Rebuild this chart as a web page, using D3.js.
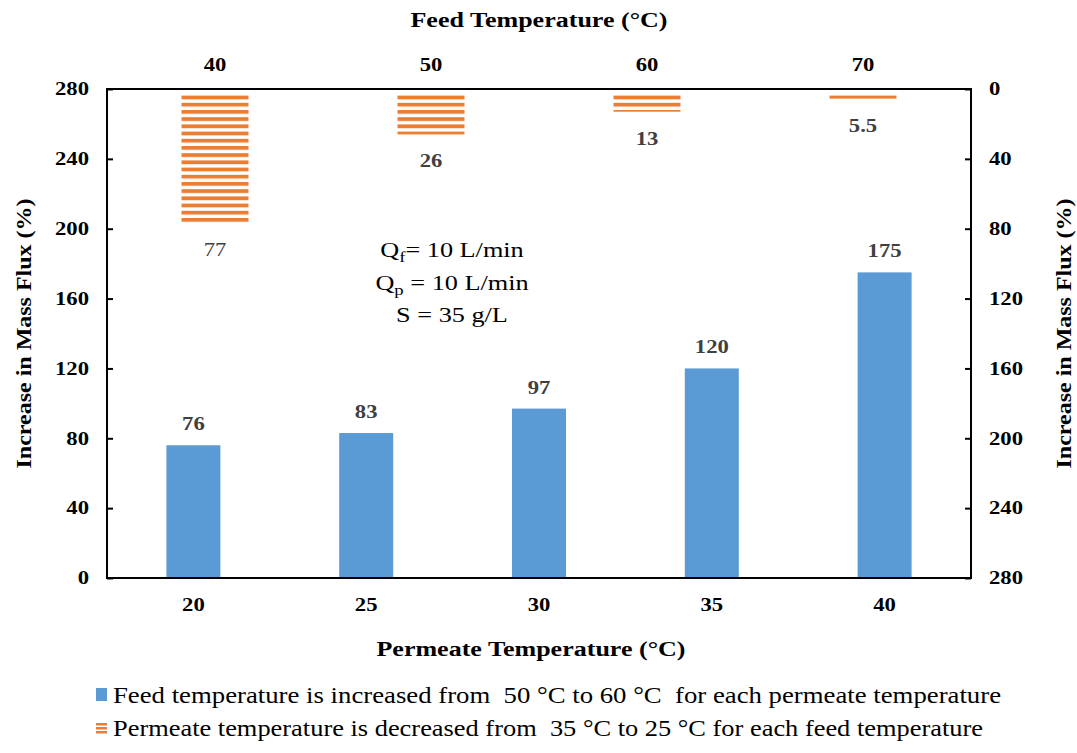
<!DOCTYPE html>
<html>
<head>
<meta charset="utf-8">
<script src="https://cdn.jsdelivr.net/npm/d3@7"></script>
<style>
  body { margin: 0; background: #fff; }
  text { font-family: "Liberation Serif", "Times New Roman", serif; }
</style>
</head>
<body>
<div id="chart"></div>
<script>
// data
const permeateTemps = ["20", "25", "30", "35", "40"];
const feedIncrease = [76, 83, 97, 120, 175];
const feedTemps = ["40", "50", "60", "70"];
const permeateDecrease = [77, 26, 13, 5.5];
const permeateLabels = ["77", "26", "13", "5.5"];
const yTicks = [0, 40, 80, 120, 160, 200, 240, 280];

const width = 1077;
const height = 753;
const margin = { top: 89, right: 106, bottom: 175, left: 107 };
const plotW = width - margin.left - margin.right;
const plotH = height - margin.top - margin.bottom;

const blue = "#5B9BD5";
const orange = "#ED7D31";
const SX = 1.26; // text in the original is drawn wider than normal

// widen a text horizontally around its own x anchor
function widen(sel, sx) {
    sel.attr("transform", function () {
        const x = +d3.select(this).attr("x") || 0;
        return "translate(" + x + ",0) scale(" + sx + ",1) translate(" + (-x) + ",0)";
    });
}

const svg = d3.select("#chart")
    .append("svg")
    .attr("width", width)
    .attr("height", height);

const defs = svg.append("defs");
const pat = defs.append("pattern")
    .attr("id", "stripes")
    .attr("patternUnits", "userSpaceOnUse")
    .attr("width", 10)
    .attr("height", 7.2)
    .attr("y", margin.top + 4);
pat.append("rect")
    .attr("width", 10)
    .attr("height", 3.8)
    .attr("fill", orange);

const g = svg.append("g")
    .attr("transform", "translate(" + margin.left + "," + margin.top + ")");

const xBottom = d3.scaleBand().domain(permeateTemps).range([0, plotW]).paddingInner(0.6875).paddingOuter(0.34375);
const xTop = d3.scaleBand().domain(feedTemps).range([0, plotW]).paddingInner(0.69).paddingOuter(0.345);
const yLeft = d3.scaleLinear().domain([0, 280]).range([plotH, 0]);
const yRight = d3.scaleLinear().domain([0, 280]).range([0, plotH]);

// blue bars
g.selectAll(".blueBar")
    .data(feedIncrease)
    .enter()
    .append("rect")
    .attr("class", "blueBar")
    .attr("x", (d, i) => xBottom(permeateTemps[i]))
    .attr("width", xBottom.bandwidth())
    .attr("y", d => yLeft(d))
    .attr("height", d => plotH - yLeft(d))
    .attr("fill", blue);

g.selectAll(".blueLabel")
    .data(feedIncrease)
    .enter()
    .append("text")
    .attr("x", (d, i) => xBottom(permeateTemps[i]) + xBottom.bandwidth() / 2)
    .attr("y", d => yLeft(d) - 15)
    .attr("text-anchor", "middle")
    .attr("font-size", "18px")
    .attr("font-weight", "bold")
    .attr("fill", "#404040")
    .text(d => d)
    .call(widen, SX);

// orange striped bars (right axis, reversed)
g.selectAll(".orangeBar")
    .data(permeateDecrease)
    .enter()
    .append("rect")
    .attr("class", "orangeBar")
    .attr("x", (d, i) => xTop(feedTemps[i]))
    .attr("width", xTop.bandwidth())
    .attr("y", yRight(0) + 4)
    .attr("height", d => yRight(d) - 4)
    .attr("fill", "url(#stripes)");

g.selectAll(".orangeLabel")
    .data(permeateDecrease)
    .enter()
    .append("text")
    .attr("x", (d, i) => xTop(feedTemps[i]) + xTop.bandwidth() / 2)
    .attr("y", d => yRight(d) + 33)
    .attr("text-anchor", "middle")
    .attr("font-size", "18px")
    .attr("font-weight", (d, i) => i === 0 ? "normal" : "bold")
    .attr("fill", "#404040")
    .text((d, i) => permeateLabels[i])
    .call(widen, SX);

// axes
function styleAxis(sel) {
    sel.selectAll("text")
        .attr("font-family", "Liberation Serif, serif")
        .attr("font-size", "18px")
        .attr("font-weight", "bold")
        .attr("fill", "#000")
        .call(widen, SX);
    sel.selectAll("line").attr("stroke", "#000").attr("stroke-width", 2);
    sel.select(".domain").remove();
}

g.append("g")
    .call(d3.axisLeft(yLeft).tickValues(yTicks).tickSizeInner(-6).tickSizeOuter(0).tickPadding(18))
    .call(styleAxis);

g.append("g")
    .attr("transform", "translate(" + plotW + ",0)")
    .call(d3.axisRight(yRight).tickValues(yTicks).tickSizeInner(-6).tickSizeOuter(0).tickPadding(18))
    .call(styleAxis);

g.append("g")
    .attr("transform", "translate(0," + plotH + ")")
    .call(d3.axisBottom(xBottom).tickSize(0).tickPadding(20))
    .call(styleAxis);

g.append("g")
    .call(d3.axisTop(xTop).tickSize(0).tickPadding(18))
    .call(styleAxis);

// frame
g.append("rect")
    .attr("width", plotW)
    .attr("height", plotH)
    .attr("fill", "none")
    .attr("stroke", "#000")
    .attr("stroke-width", 2);

// titles
svg.append("text")
    .attr("x", 539)
    .attr("y", 27)
    .attr("text-anchor", "middle")
    .attr("font-size", "21px")
    .attr("font-weight", "bold")
    .text("Feed Temperature (°C)")
    .call(widen, 1.24);

svg.append("text")
    .attr("x", 531)
    .attr("y", 656)
    .attr("text-anchor", "middle")
    .attr("font-size", "21px")
    .attr("font-weight", "bold")
    .text("Permeate Temperature (°C)")
    .call(widen, 1.24);

svg.append("text")
    .attr("transform", "translate(31," + (margin.top + plotH / 2) + ") rotate(-90) scale(1.2,1)")
    .attr("text-anchor", "middle")
    .attr("font-size", "20px")
    .attr("font-weight", "bold")
    .text("Increase in Mass Flux (%)");

svg.append("text")
    .attr("transform", "translate(1071," + (margin.top + plotH / 2) + ") rotate(-90) scale(1.2,1)")
    .attr("text-anchor", "middle")
    .attr("font-size", "20px")
    .attr("font-weight", "bold")
    .text("Increase in Mass Flux (%)");

// conditions note
const note = svg.append("g").attr("font-size", "21px").attr("text-anchor", "middle");
const n1 = note.append("text").attr("x", 452).attr("y", 257);
n1.append("tspan").text("Q");
n1.append("tspan").attr("font-size", "15px").attr("dy", 5).text("f");
n1.append("tspan").attr("dy", -5).text("= 10 L/min");
const n2 = note.append("text").attr("x", 452).attr("y", 290);
n2.append("tspan").text("Q");
n2.append("tspan").attr("font-size", "15px").attr("dy", 5).text("p");
n2.append("tspan").attr("dy", -5).text(" = 10 L/min");
note.append("text").attr("x", 452).attr("y", 322).text("S = 35 g/L");
note.selectAll("text").call(widen, 1.25);

// legend
const legendItems = [
    "Feed temperature is increased from  50 °C to 60 °C  for each permeate temperature",
    "Permeate temperature is decreased from  35 °C to 25 °C for each feed temperature"
];
const legendWidths = [888, 870];
const legend = svg.selectAll(".legend")
    .data(legendItems)
    .enter()
    .append("g")
    .attr("class", "legend")
    .attr("transform", (d, i) => "translate(96," + (695 + i * 33) + ")");

legend.filter((d, i) => i === 0)
    .append("rect")
    .attr("x", 0).attr("y", -7).attr("width", 11).attr("height", 13)
    .attr("fill", blue);
const lg2 = legend.filter((d, i) => i === 1);
[-5, -1, 3].forEach(dy => {
    lg2.append("rect").attr("x", 0).attr("y", dy).attr("width", 11).attr("height", 2.5).attr("fill", orange);
});

legend.append("text")
    .attr("x", 17)
    .attr("y", 8)
    .attr("font-size", "24px")
    .attr("textLength", (d, i) => legendWidths[i])
    .attr("lengthAdjust", "spacingAndGlyphs")
    .style("white-space", "pre")
    .text(d => d);
</script>
</body>
</html>
